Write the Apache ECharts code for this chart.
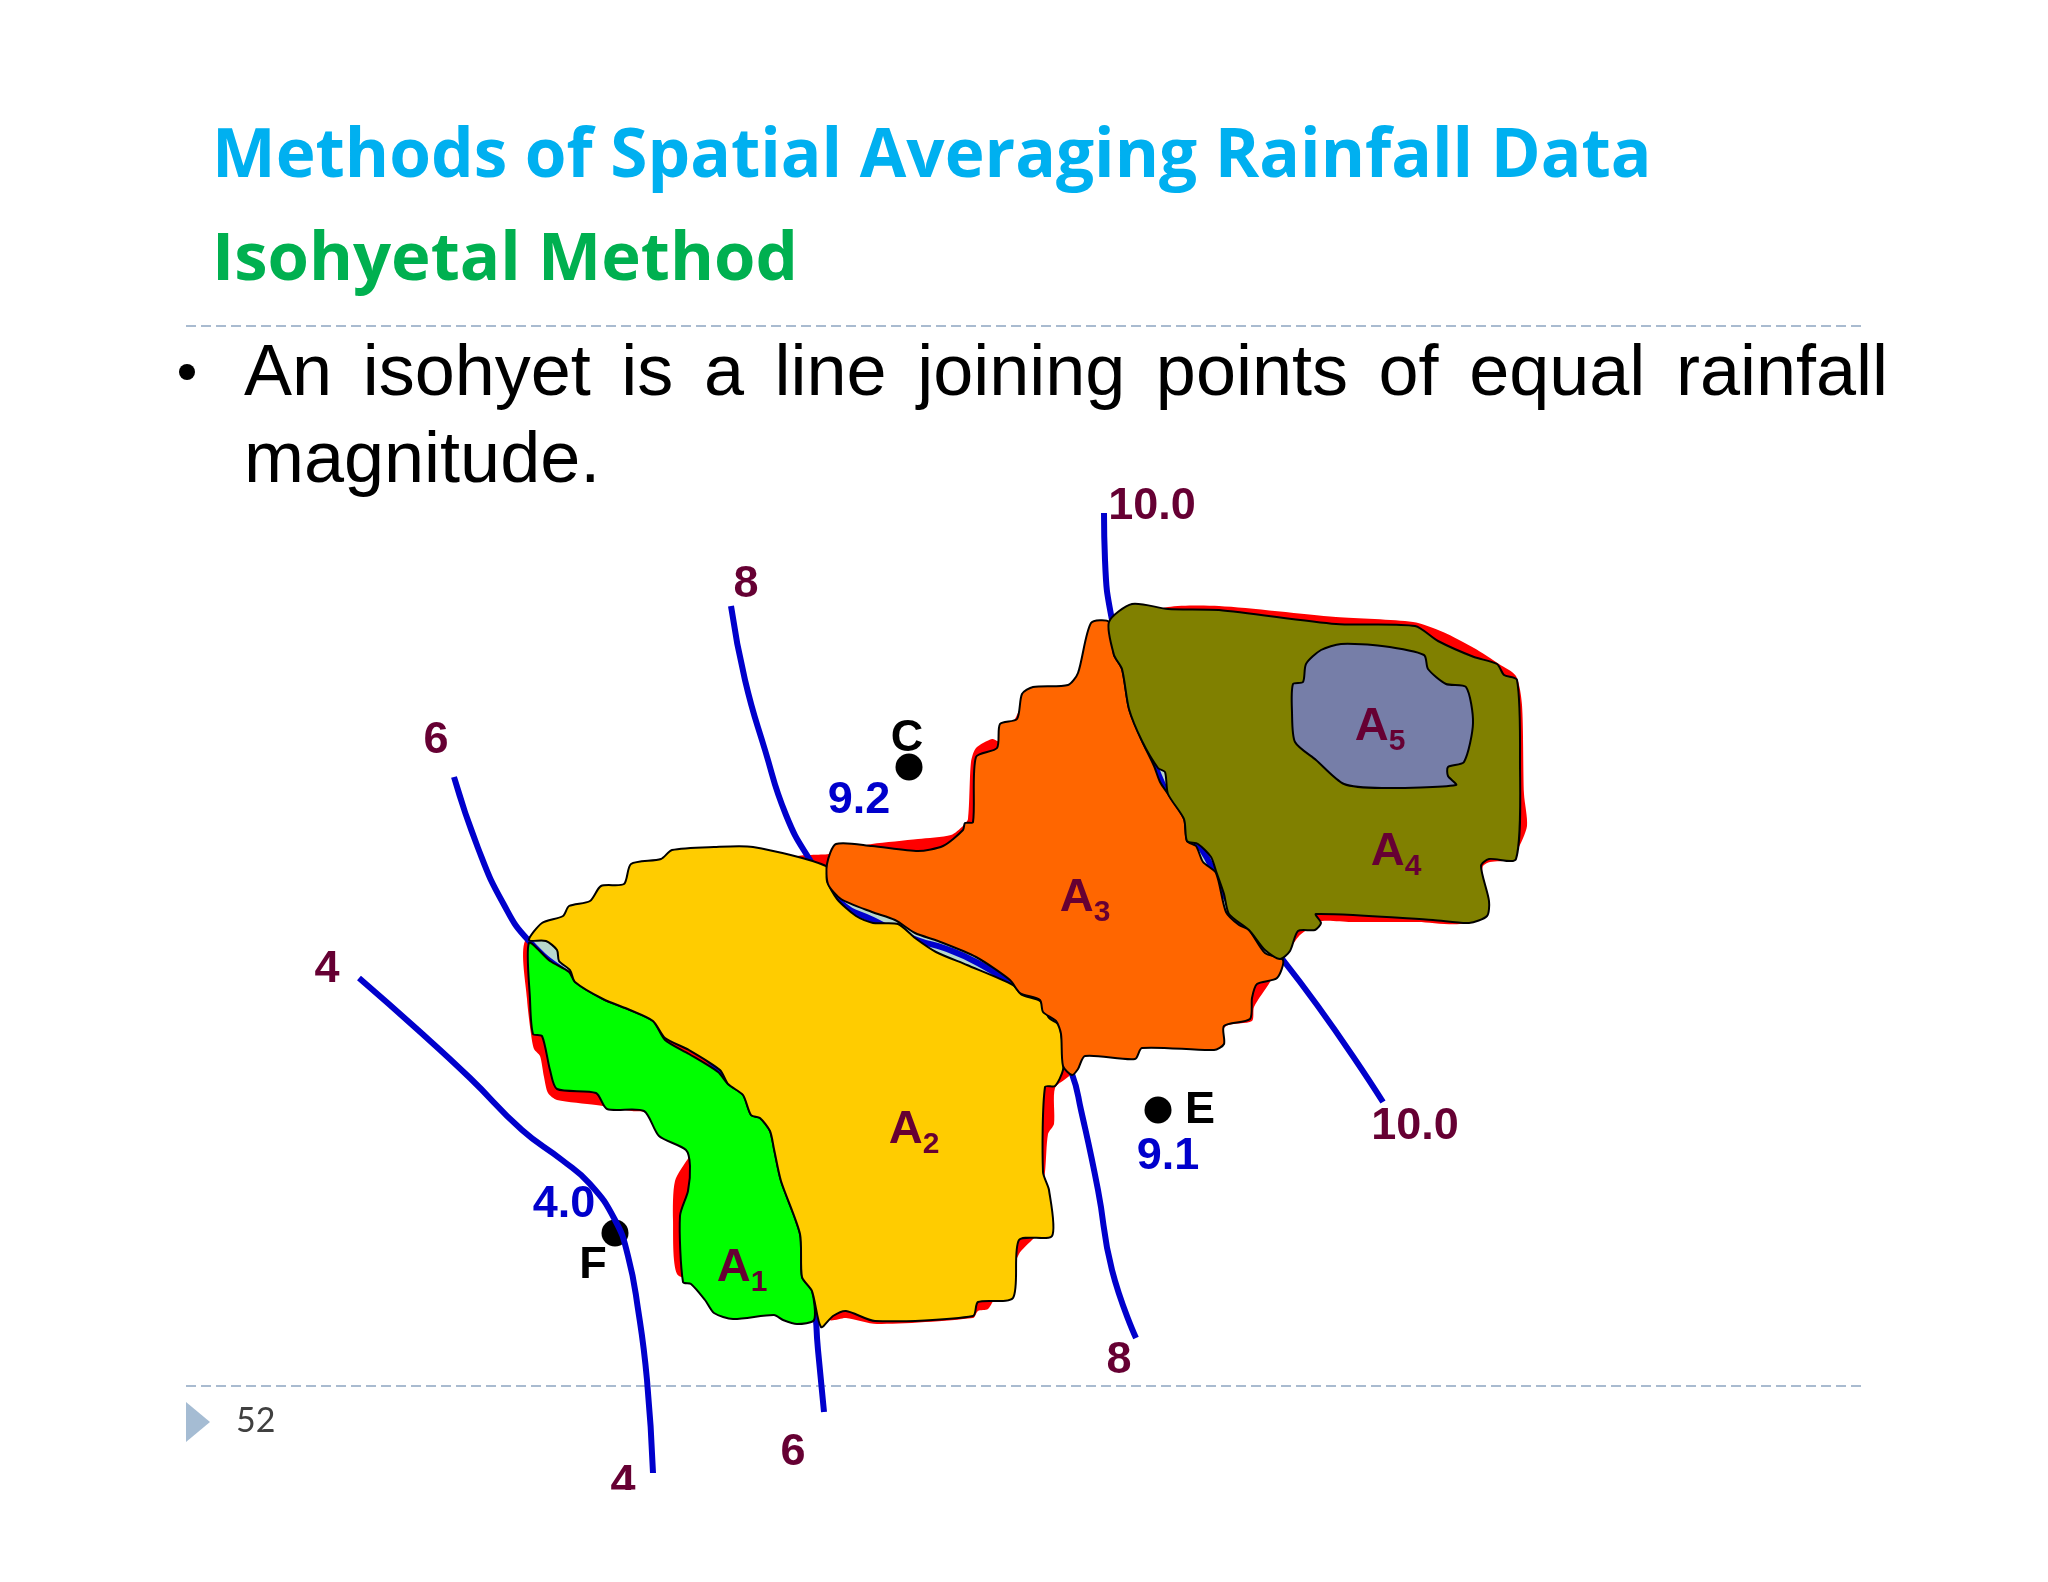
<![CDATA[<!DOCTYPE html>
<html>
<head>
<meta charset="utf-8">
<style>html,body{margin:0;padding:0;background:#fff}#chart{width:2048px;height:1582px}</style>
<script src="https://cdn.jsdelivr.net/npm/echarts@6/dist/echarts.min.js"></script>
</head>
<body>
<div id="chart"></div>
<script>
// outlines are [x, y] read off the sheet, in sheet units
const outlineRed = [[525,941],[560,925],[800,870],[795,857],[829,854],[840,850],[872,844],[918,839],[951,835],[963,826],[968,819],[971,762],[976,748],[992,739],[999,741],[1015,719],[1020,709],[1035,695],[1068,690],[1076,680],[1090,650],[1106,634],[1130,620],[1168,607],[1219,606],[1336,617],[1413,622],[1443,632],[1474,648],[1499,664],[1516,676],[1522,705],[1524,794],[1527,826],[1517,851],[1510,860],[1490,862],[1483,866],[1482,876],[1478,900],[1465,923],[1418,922],[1351,922],[1322,921],[1310,928],[1300,935],[1293,944],[1283,958],[1270,982],[1254,1007],[1252,1021],[1226,1026],[1215,1045],[1180,1040],[1080,1050],[1070,1075],[1055,1088],[1054,1124],[1048,1134],[1045,1172],[1040,1200],[1040,1232],[1032,1240],[1019,1254],[1005,1290],[994,1300],[988,1309],[978,1311],[973,1318],[877,1324],[846,1318],[829,1320],[810,1300],[700,1280],[677,1274],[673,1220],[675,1181],[689,1157],[700,1140],[660,1125],[645,1112],[632,1111],[596,1105],[557,1100],[548,1093],[544,1077],[540,1056],[534,1049],[531,1034],[527,999]];
const gapNorthWest = [[529,940],[546,938],[560,945],[562,962],[574,976],[550,965]];
const gapA2A3 = [[830,885],[900,915],[1020,985],[1066,1030],[1060,1060],[1000,1000],[900,935],[840,910]];
const gapA3A4 = [[1130,700],[1155,745],[1178,790],[1205,840],[1232,900],[1262,945],[1283,962],[1255,950],[1220,900],[1190,850],[1160,800],[1135,740]];

const outlineA1 = [[529,943],[550,961],[569,972],[575,982],[603,999],[630,1010],[653,1021],[665,1040],[689,1054],[718,1072],[728,1084],[743,1095],[751,1115],[760,1118],[770,1131],[774,1149],[781,1181],[800,1234],[802,1277],[812,1291],[814,1320],[797,1324],[783,1320],[774,1315],[733,1319],[714,1313],[705,1300],[691,1284],[683,1282],[680,1216],[688,1191],[690,1166],[686,1150],[659,1136],[644,1111],[607,1109],[596,1093],[557,1089],[550,1070],[542,1036],[533,1034],[530,999]];
const outlineA2 = [[529,940],[542,923],[563,916],[569,906],[590,901],[601,886],[624,884],[631,864],[661,859],[672,850],[714,847],[753,847],[826,866],[827,881],[837,899],[856,916],[873,923],[898,924],[915,938],[936,952],[967,965],[1013,985],[1022,995],[1040,1001],[1049,1018],[1059,1025],[1063,1049],[1063,1070],[1055,1086],[1045,1087],[1043,1172],[1049,1190],[1052,1236],[1019,1240],[1013,1298],[978,1302],[973,1316],[875,1321],[846,1311],[833,1316],[821,1327],[812,1291],[802,1277],[800,1234],[781,1181],[774,1149],[770,1131],[760,1118],[751,1115],[743,1095],[728,1084],[720,1070],[689,1050],[665,1038],[653,1021],[630,1010],[603,999],[575,982],[570,970],[559,961],[557,950],[546,941]];
const outlineA3 = [[836,844],[872,846],[918,851],[943,846],[963,830],[965,823],[973,822],[976,757],[997,748],[1000,724],[1017,719],[1022,694],[1033,687],[1068,685],[1078,673],[1091,623],[1109,622],[1114,655],[1122,669],[1129,709],[1142,741],[1154,766],[1160,782],[1168,794],[1184,819],[1187,841],[1196,846],[1203,862],[1216,873],[1226,912],[1239,925],[1249,930],[1265,953],[1283,960],[1277,978],[1257,984],[1252,998],[1250,1019],[1224,1026],[1224,1044],[1214,1050],[1142,1048],[1135,1059],[1085,1056],[1078,1069],[1072,1075],[1063,1066],[1061,1034],[1056,1021],[1043,1012],[1040,1000],[1020,993],[1010,980],[976,957],[938,941],[915,933],[895,920],[872,912],[841,899],[828,884],[827,864]];
const outlineA4 = [[1109,622],[1132,604],[1168,609],[1219,610],[1336,624],[1415,626],[1438,641],[1474,657],[1497,664],[1504,675],[1517,680],[1520,759],[1516,859],[1489,859],[1481,866],[1489,901],[1487,916],[1469,923],[1433,920],[1316,914],[1321,923],[1315,930],[1298,931],[1290,951],[1280,959],[1265,950],[1249,930],[1229,914],[1224,894],[1216,871],[1211,857],[1198,844],[1187,841],[1184,819],[1168,794],[1165,772],[1158,768],[1142,741],[1129,709],[1122,669],[1114,655]];
const outlineA5 = [[1306,664],[1321,650],[1341,644],[1382,646],[1424,655],[1428,669],[1446,684],[1466,687],[1473,723],[1464,762],[1448,767],[1448,776],[1456,785],[1382,788],[1344,784],[1316,760],[1295,742],[1292,712],[1293,684],[1303,682]];

const isohyet4 = [[359,978],[418,1030],[470,1078],[522,1130],[562,1160],[590,1184],[615,1220],[628,1256],[638,1309],[647,1380],[653,1473]];
const isohyet6 = [[454,777],[478,848],[503,903],[529,941],[570,975],[720,1070],[780,1170],[812,1290],[818,1350],[824,1412]];
const isohyet8 = [[731,606],[745,680],[765,750],[786,815],[810,860],[840,902],[873,920],[917,940],[944,948],[978,963],[1013,986],[1045,1013],[1072,1074],[1081,1110],[1098,1190],[1112,1270],[1136,1338]];
const isohyet10 = [[1104,513],[1105,560],[1112,620],[1128,680],[1150,750],[1163,785],[1185,825],[1207,858],[1230,905],[1255,940],[1283,960],[1383,1102]];

const isohyetNames = ['10.0','8','6','4','10.0','8','6','4'];
const isohyetNameAt = [[1152,507],[746,585],[436,741],[327,970],[1415,1127],[1119,1361],[793,1453],[623,1484]];
const stationNames = ['C','E','F'];
const stationAt = [[909,767],[1158,1110],[615,1233]];
const stationNameAt = [[907,739],[1200,1111],[593,1266]];
const stationRain = ['9.2','9.1','4.0'];
const stationRainAt = [[859,801],[1168,1157],[564,1205]];
const areaNames = ['1','2','3','4','5'];
const areaNameAt = [[742,1268],[914,1130],[1085,898],[1396,852],[1380,727]];

const lineOne = ['An','isohyet','is','a','line','joining','points','of','equal','rainfall'];

const maroon = '#660033', blue = '#0000cc', dash = '#a9bbd0';
const bold = 'Liberation Sans';

function area(outline, color, z) {
  return {
    type: 'custom', coordinateSystem: 'cartesian2d', z, silent: true, data: [0],
    renderItem: (params, api) => ({
      type: 'polygon',
      shape: { points: outline.map(p => api.coord(p)), smooth: 0.25 },
      style: { fill: color, stroke: color === '#ff0000' || color === '#b8d8cc' ? null : '#000', lineWidth: 2 }
    })
  };
}
function isohyet(points) {
  return {
    type: 'line', data: points, smooth: 0.5, showSymbol: false, z: 4, silent: true,
    lineStyle: { color: blue, width: 6, cap: 'butt' }
  };
}
function labels(names, at, color, size) {
  return {
    type: 'scatter', symbolSize: 0, z: 7, silent: true, itemStyle: { opacity: 1 },
    data: at.map((p, i) => ({ value: p, name: names[i] })),
    label: { show: true, position: 'inside', formatter: '{b}', color, fontFamily: bold, fontWeight: 'bold', fontSize: size, align: 'center', verticalAlign: 'middle' }
  };
}

// spread the words of the first body line between the margins
function justified(words, left, right, font) {
  const ctx = document.createElement('canvas').getContext('2d');
  ctx.font = font;
  const widths = words.map(w => ctx.measureText(w).width);
  const gap = (right - left - widths.reduce((a, b) => a + b, 0)) / (words.length - 1);
  let x = left;
  return words.map((w, i) => { const at = x; x += widths[i] + gap; return at; });
}
const bodyFont = '72px "Liberation Sans"';
const wordX = justified(lineOne, 244, 1888, bodyFont);
const bodyText = (text, x, y) => ({ type: 'text', x, y, style: { text, font: bodyFont, fill: '#000' } });

const chart = echarts.init(document.getElementById('chart'));
chart.setOption({
  animation: false,
  backgroundColor: '#fff',
  title: [
    { text: 'Methods of Spatial Averaging Rainfall Data', left: 212, top: 124, padding: 0, textStyle: { color: '#00b0f0', fontFamily: 'Open Sans', fontWeight: 700, fontSize: 67.5 } },
    { text: 'Isohyetal Method', left: 212, top: 227, padding: 0, textStyle: { color: '#00b050', fontFamily: 'Open Sans', fontWeight: 700, fontSize: 67 } }
  ],
  grid: { left: 0, right: 0, top: 0, bottom: 0 },
  xAxis: { type: 'value', min: 0, max: 2048, show: false },
  yAxis: { type: 'value', min: 0, max: 1582, inverse: true, show: false },
  graphic: [
    { type: 'line', z: 0, shape: { x1: 186, y1: 326, x2: 1861, y2: 326 }, style: { stroke: dash, lineWidth: 2, lineDash: [10, 5] } },
    { type: 'line', z: 0, shape: { x1: 186, y1: 1386, x2: 1861, y2: 1386 }, style: { stroke: dash, lineWidth: 2, lineDash: [10, 5] } },
    { type: 'polygon', z: 0, shape: { points: [[186,1402],[210,1422],[186,1442]] }, style: { fill: '#a5bcd3' } },
    { type: 'text', z: 0, x: 236, y: 1404, style: { text: '52', font: '34px Lato', fill: '#404040' } },
    { type: 'circle', z: 0, shape: { cx: 187, cy: 372, r: 8 }, style: { fill: '#000' } },
    ...lineOne.map((w, i) => bodyText(w, wordX[i], 339)),
    bodyText('magnitude.', 244, 426),
    // sheet edge cuts the last label
    { type: 'rect', z: 100, shape: { x: 560, y: 1490, width: 200, height: 40 }, style: { fill: '#fff' } }
  ],
  series: [
    area(outlineRed, '#ff0000', 1),
    area(gapNorthWest, '#b8d8cc', 2),
    area(gapA2A3, '#b8d8cc', 2),
    area(gapA3A4, '#b8d8cc', 2),
    { type: 'scatter', data: stationAt, symbolSize: 27, z: 3, silent: true, itemStyle: { color: '#000', opacity: 1 } },
    isohyet(isohyet4), isohyet(isohyet6), isohyet(isohyet8), isohyet(isohyet10),
    area(outlineA1, '#00ff00', 5),
    area(outlineA2, '#ffcc00', 5),
    area(outlineA3, '#ff6600', 5),
    area(outlineA4, '#808000', 5),
    area(outlineA5, '#767ea8', 6),
    labels(isohyetNames, isohyetNameAt, maroon, 45),
    labels(stationNames, stationNameAt, '#000', 45),
    labels(stationRain, stationRainAt, blue, 45),
    {
      type: 'scatter', symbolSize: 0, z: 7, silent: true, itemStyle: { opacity: 1 },
      data: areaNameAt.map((p, i) => ({ value: p, name: areaNames[i] })),
      label: {
        show: true, position: 'inside', formatter: p => '{a|A}{s|' + p.name + '}',
        rich: {
          a: { color: maroon, fontFamily: bold, fontWeight: 'bold', fontSize: 47 },
          s: { color: maroon, fontFamily: bold, fontWeight: 'bold', fontSize: 30, padding: [30, 0, 0, 0] }
        }
      }
    }
  ]
});
</script>
</body>
</html>
]]>
